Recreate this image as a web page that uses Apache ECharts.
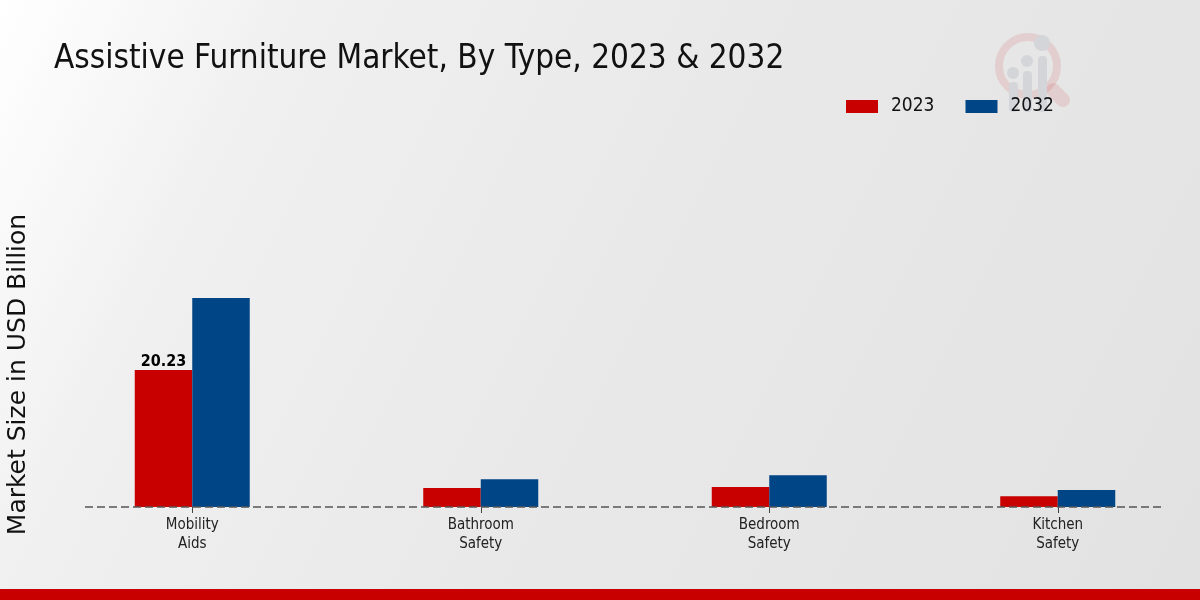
<!DOCTYPE html>
<html>

<head>
	<meta charset="UTF-8">
	<title>Assistive Furniture Market</title>
	<style>
		html, body { margin: 0; padding: 0; overflow: hidden; }
		#chart { width: 1204px; height: 600px; }
	</style>
	<script src="https://cdn.jsdelivr.net/npm/echarts@6/dist/echarts.min.js"></script>
</head>

<body>
	<div id="chart"></div>
	<script>
		var condensed = '"DejaVu Sans Condensed", "DejaVu Sans", sans-serif';
		var chart = echarts.init(document.getElementById('chart'));

		var types = ['Mobility\nAids', 'Bathroom\nSafety', 'Bedroom\nSafety', 'Kitchen\nSafety'];
		var y2023 = [20.23, 2.8, 2.95, 1.6];
		var y2032 = [30.9, 4.1, 4.7, 2.5];

		chart.setOption({
			animation: false,
			title: {
				text: 'Assistive Furniture Market, By Type, 2023 & 2032',
				left: 49, top: 38,
				textStyle: { fontFamily: condensed, fontSize: 33, fontWeight: 'normal', color: '#111' }
			},
			legend: {
				left: 841, top: 92,
				itemWidth: 32, itemHeight: 13, itemGap: 31,
				icon: 'rect',
				itemStyle: { borderWidth: 0 },
				textStyle: { fontFamily: condensed, fontSize: 19, color: '#111', padding: [0, 0, 0, 8] },
				data: ['2023', '2032']
			},
			grid: { left: 48, width: 1154, top: 101, height: 406 },
			xAxis: {
				type: 'category',
				data: types,
				axisLine: { show: false },
				axisTick: { show: true, alignWithLabel: true, length: 6, lineStyle: { color: '#444' } },
				axisLabel: { fontFamily: condensed, fontSize: 15, color: '#222', lineHeight: 19, margin: 9, interval: 0 }
			},
			yAxis: { type: 'value', min: 0, max: 60, show: false },
			series: [
				{
					name: '2023', type: 'bar', barWidth: 57.5, barGap: 0,
					itemStyle: { color: '#c80000', borderWidth: 0 },
					data: y2023.map(function (v, i) {
						return i === 0 ? {
							value: v,
							label: {
								show: true, position: 'top', distance: 0,
								fontFamily: condensed, fontSize: 16, fontWeight: 'bold', color: '#000'
							}
						} : v;
					})
				},
				{
					name: '2032', type: 'bar', barWidth: 57.5,
					itemStyle: { color: '#004586', borderWidth: 0 },
					data: y2032
				}
			],
			graphic: [
				// background
				{
					type: 'rect', z: -10, silent: true,
					shape: { x: 0, y: 0, width: 1204, height: 600 },
					style: {
						fill: new echarts.graphic.LinearGradient(0, 0, 1, 1, [
							{ offset: 0, color: '#ffffff' },
							{ offset: 0.2, color: '#f0f0f0' },
							{ offset: 0.5, color: '#e9e9e9' },
							{ offset: 1, color: '#e2e2e2' }
						])
					}
				},
				// watermark logo
				{
					type: 'circle', z: -5, silent: true,
					shape: { cx: 1028, cy: 66, r: 29 },
					style: { fill: 'none', stroke: 'rgba(200,0,0,0.1)', lineWidth: 8 }
				},
				{
					type: 'line', z: -5, silent: true,
					shape: { x1: 1053, y1: 90, x2: 1063, y2: 100 },
					style: { stroke: 'rgba(200,0,0,0.1)', lineWidth: 14, lineCap: 'round' }
				},
				{ type: 'rect', z: -4, silent: true, shape: { x: 1009, y: 82, width: 9, height: 30, r: 4 }, style: { fill: '#d3d5d8' } },
				{ type: 'rect', z: -4, silent: true, shape: { x: 1023, y: 71, width: 9, height: 41, r: 4 }, style: { fill: '#d3d5d8' } },
				{ type: 'rect', z: -4, silent: true, shape: { x: 1038, y: 56, width: 9, height: 56, r: 4 }, style: { fill: '#d3d5d8' } },
				{ type: 'circle', z: -4, silent: true, shape: { cx: 1013, cy: 73, r: 6 }, style: { fill: '#d3d5d8' } },
				{ type: 'circle', z: -4, silent: true, shape: { cx: 1027, cy: 61, r: 6 }, style: { fill: '#d3d5d8' } },
				{ type: 'circle', z: -4, silent: true, shape: { cx: 1042, cy: 43, r: 8 }, style: { fill: '#d3d5d8' } },
				// axis title
				{
					type: 'text', silent: true,
					x: 18, y: 374.5, rotation: Math.PI / 2,
					style: {
						text: 'Market Size in USD Billion',
						fontFamily: 'DejaVu Sans', fontSize: 25, fill: '#111',
						align: 'center', verticalAlign: 'middle'
					}
				},
				// dashed baseline
				{
					type: 'line', z: 50, silent: true,
					shape: { x1: 85, y1: 507, x2: 1164, y2: 507 },
					style: { stroke: '#555', lineWidth: 1.4, lineDash: [8, 4] }
				},
				// footer band
				{
					type: 'rect', silent: true,
					shape: { x: 0, y: 589, width: 1204, height: 11 },
					style: { fill: '#c80000' }
				}
			]
		});
	</script>
</body>

</html>
